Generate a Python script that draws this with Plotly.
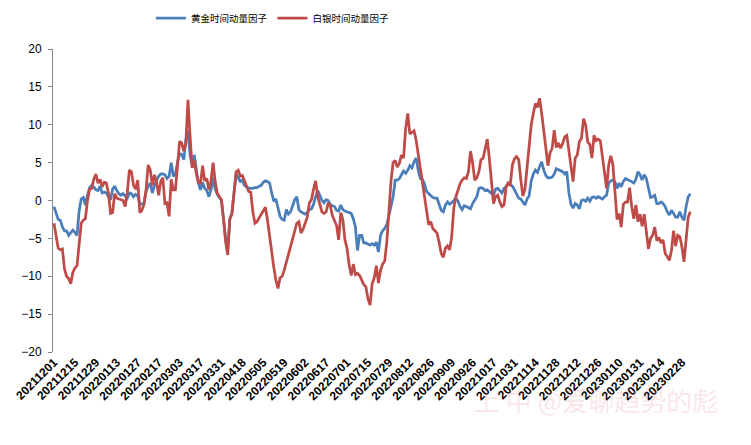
import pandas as pd
import plotly.graph_objects as go

# 交易日（剔除节假日）
HOLIDAYS = [
    "2022-01-03", "2022-01-31", "2022-02-01", "2022-02-02", "2022-02-03", "2022-02-04",
    "2022-04-04", "2022-04-05", "2022-05-02", "2022-05-03", "2022-05-04", "2022-06-03",
    "2022-09-12", "2022-10-03", "2022-10-04", "2022-10-05", "2022-10-06", "2022-10-07",
    "2023-01-02", "2023-01-23", "2023-01-24", "2023-01-25", "2023-01-26", "2023-01-27",
]
dates = [d.strftime("%Y%m%d") for d in pd.bdate_range("2021-12-01", "2023-03-06")
         if d.strftime("%Y-%m-%d") not in HOLIDAYS]

TICK_LABELS = [
    "20211201", "20211215", "20211229", "20220113", "20220127", "20220217", "20220303",
    "20220317", "20220331", "20220418", "20220505", "20220519", "20220602", "20220617",
    "20220701", "20220715", "20220729", "20220812", "20220826", "20220909", "20220926",
    "20221017", "20221031", "20221114", "20221128", "20221212", "20221226", "20230110",
    "20230131", "20230214", "20230228",
]

gold = [
    -0.8, -1.7, -2.5, -2.6, -3.5, -4.0, -4.0, -4.6, -4.3, -3.9,
    -4.2, -4.6, -1.4, 0.2, 0.4, -0.6, 0.7, 1.7, 2.0, 1.8,
    1.4, 1.3, 1.9, 1.0, 1.1, 1.0, 0.5, 0.1, 1.5, 1.9,
    1.3, 0.9, 0.7, 0.9, 0.6, 0.3, 1.0, 0.9, 0.5, 0.8,
    0.6, -0.4, -0.5, -0.3, 1.2, 1.9, 2.3, 1.0, 2.0, 2.6,
    3.2, 3.5, 3.5, 3.4, 2.9, 3.2, 5.0, 3.2, 3.5, 5.0,
    6.2, 6.1, 5.4, 8.0, 9.2, 6.0, 4.6, 6.0, 4.0, 2.3,
    1.4, 2.4, 1.6, 1.3, 0.5, 1.4, 3.0, 1.5, 0.8, 0.4,
    0.0, -2.5, -5.0, -6.5, -2.5, -1.6, 0.9, 3.5, 3.0, 2.5,
    2.7, 2.0, 1.8, 1.6, 1.6, 1.6, 1.7, 1.7, 1.9, 2.0,
    2.4, 2.6, 2.5, 2.3, 1.0, -0.1, 0.2, -1.2, -2.1, -2.5,
    -2.6, -1.2, -1.8, -1.5, -0.6, 0.1, 0.5, -1.2, -1.5, -1.7,
    -1.8, -1.6, -1.2, -1.1, -0.5, 0.5, 1.3, 0.7, 0.0, -0.3,
    0.1, 0.0, -0.5, -0.7, -0.8, -1.3, -1.4, -0.6, -1.2, -1.4,
    -1.5, -1.6, -1.7, -2.4, -3.5, -6.6, -4.6, -4.6, -5.6, -5.6,
    -5.8, -5.9, -5.7, -5.9, -5.5, -6.8, -4.6, -4.0, -3.7, -3.2,
    -2.0, -0.6, 0.5, 2.7, 2.7, 2.9, 3.4, 3.9, 3.6, 4.0,
    4.6, 4.3, 5.1, 5.6, 4.0, 2.9, 2.8, 2.2, 1.2, 0.9,
    0.6, 0.4, 0.3, 0.3, -0.5, -1.3, -1.5, -0.6, -0.2, -0.5,
    -0.3, 0.0, 0.3, -0.1, -0.8, -1.2, -0.7, -0.8, -1.0, -1.1,
    -0.4, 0.0, 0.5, 1.6, 1.7, 1.6, 1.3, 1.4, 1.2, 1.0,
    0.7, 1.5, 1.6, 1.3, 1.0, 1.6, 1.8, 2.3, 2.1, 1.9,
    1.4, 0.9, 0.3, 0.2, -0.3, -0.6, 0.2, 0.6, 2.6, 3.5,
    4.0, 3.7, 4.5, 5.1, 4.0, 3.3, 3.0, 3.0, 3.1, 3.5,
    4.2, 4.1, 4.0, 3.8, 3.5, 3.8, 1.0, -0.5, -1.0, -0.4,
    -0.6, -1.1, 0.0, 0.1, -0.1, 0.3, -0.1, 0.4, 0.5, 0.3,
    0.5, 0.3, 0.2, 0.5, 0.7, 2.3, 2.6, 2.7, 2.5, 1.6,
    2.3, 1.8, 2.5, 2.9, 2.8, 2.6, 2.5, 2.3, 2.8, 3.8,
    3.4, 2.7, 3.4, 2.9, 1.8, 0.4, 0.5, 0.7, -0.4, -0.4,
    -0.2, -0.4, -0.8, -1.5, -1.9, -1.3, -1.7, -2.2, -2.2, -1.5,
    -2.2, -2.6, -0.8, 0.5, 0.9,
]

silver = [
    -3.0, -4.8, -6.3, -6.5, -6.4, -9.0, -10.0, -10.3, -11.0, -9.5,
    -8.9, -8.6, -5.5, -3.0, -2.6, -2.4, 0.0, 1.5, 1.6, 2.8,
    3.5, 2.3, 2.8, 1.8, 2.4, 2.3, 1.0, -1.7, -1.6, 0.9,
    0.3, 0.2, 0.1, 0.0, -0.8, 1.0, 4.0, 3.8, 2.0, 1.5,
    2.7, -1.6, -1.3, -0.5, 1.5, 4.7, 4.0, 2.0, 3.4, 2.4,
    0.7, 2.5, 3.0, -0.4, -0.3, -2.1, 2.8, 1.4, 1.4, 5.0,
    7.8, 7.6, 6.5, 7.6, 13.3, 8.5, 4.3, 5.3, 3.5, 2.4,
    2.3, 4.6, 2.6, 2.9, 1.4, 2.6, 5.0, 2.5, 1.0, 0.5,
    0.1, -2.5, -5.5, -7.2, -2.4, -1.8, 0.9, 3.8, 4.0, 3.2,
    3.3, 2.6, 2.0, 1.2, 1.1, -1.5, -3.0, -2.8, -2.3, -1.8,
    -1.2, -0.9, -2.6, -4.8, -7.0, -8.8, -10.5, -11.6, -10.2, -10.0,
    -9.2, -8.2, -7.2, -6.0, -4.9, -4.2, -3.0, -2.8, -4.3, -3.8,
    -2.9, -2.2, -0.3, 0.1, 1.5, 2.6, 0.5, -0.6, -1.5, -1.7,
    -1.5, -0.3, -0.7, -2.0, -2.6, -3.3, -5.2, -1.6, -2.5, -5.2,
    -6.3, -8.5, -9.9, -8.4, -9.8, -9.6, -9.9, -10.5, -11.1, -11.4,
    -13.0, -13.8, -11.0, -10.2, -8.6, -10.9, -9.2, -8.4, -8.0, -5.5,
    -1.5, 2.5, 5.0, 5.3, 4.4, 4.9, 6.0, 5.6, 9.5, 11.5,
    8.8, 9.0, 9.2, 8.0, 6.2, 4.0, 2.2, 0.7, -1.5, -3.2,
    -2.8, -3.7, -4.0, -4.3, -5.5, -7.0, -7.5, -6.3, -6.0, -6.5,
    -4.8, -1.0, 0.5, 1.5, 2.2, 2.7, 3.0, 2.9, 3.8, 6.5,
    5.0, 2.7, 3.0, 3.8, 5.4, 5.6, 6.8, 8.1, 5.5, 2.3,
    -0.4, 0.5, 0.7, -0.2, -0.8, -0.6, 1.8, 2.3, 2.1, 4.7,
    5.5, 5.8, 5.4, 2.8, 0.6, 1.5, 4.5, 7.5, 10.0, 11.5,
    12.8, 12.3, 13.5, 11.5, 9.0, 6.8, 4.6, 6.3, 6.9, 9.3,
    7.0, 7.6, 6.9, 7.5, 8.4, 8.6, 6.4, 4.3, 2.5, 5.6,
    6.0, 7.8, 8.2, 10.8, 10.0, 7.7, 7.4, 5.6, 8.6, 7.9,
    8.1, 7.9, 5.6, 3.5, 1.6, 4.7, 5.9, 4.8, 0.5, -2.5,
    -1.7, -3.5, -0.5, -0.2, -0.2, 1.7, -0.8, -2.4, -0.6, -2.8,
    -1.8, -3.4, -1.8, -4.5, -6.4, -5.0, -4.6, -3.5, -5.3, -4.9,
    -5.6, -5.2, -7.0, -7.4, -7.9, -6.6, -4.0, -6.0, -4.6, -4.8,
    -6.1, -8.1, -4.8, -2.2, -1.5,
]

fig = go.Figure()
fig.add_trace(go.Scatter(x=dates, y=gold, name="黄金时间动量因子", mode="lines",
                         line=dict(color="#4A7EBB", width=2.75)))
fig.add_trace(go.Scatter(x=dates, y=silver, name="白银时间动量因子", mode="lines",
                         line=dict(color="#BE4B48", width=2.75)))

fig.update_layout(
    width=751, height=445,
    margin=dict(l=53, r=54, t=49, b=93, autoexpand=False),
    plot_bgcolor="white", paper_bgcolor="white",
    font=dict(family="Liberation Sans, Arial, sans-serif", color="black"),
    legend=dict(orientation="h", x=0.152, y=1.15, xanchor="left", yanchor="top",
                font=dict(family="Noto Sans CJK SC", size=9.5)),
    xaxis=dict(type="category", range=[-0.48, 307.2], automargin=False,
               tickmode="array", tickvals=TICK_LABELS, ticktext=TICK_LABELS,
               tickangle=-45, tickfont=dict(size=12, weight="bold"),
               showline=False, showgrid=False, zeroline=False, ticks=""),
    yaxis=dict(range=[-20, 20], dtick=5, showline=True, linecolor="#868686", linewidth=1,
               ticks="outside", ticklen=4, tickcolor="#868686", automargin=False,
               ticklabelstandoff=4,
               showgrid=False, zeroline=False, tickfont=dict(size=12)),
)

# 水印
fig.add_annotation(text="上 中 @爱聊趋势的彪", xref="paper", yref="paper",
                   x=1.035, y=-0.225, xanchor="right", showarrow=False,
                   font=dict(family="Noto Sans CJK SC", size=26, color="rgba(235,120,140,0.2)"))

# 去掉页面默认边距
fig.write_html("out.html", config={"displayModeBar": False},
               post_script="document.body.style.margin='0';")
